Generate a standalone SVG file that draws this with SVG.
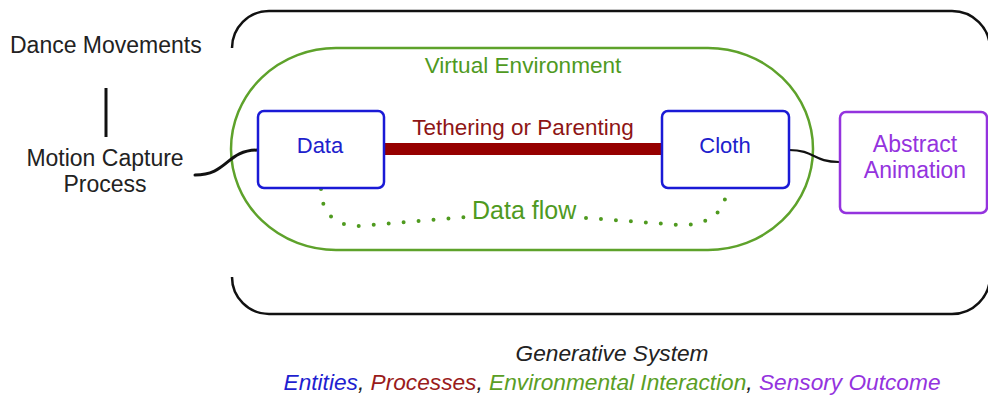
<svg xmlns="http://www.w3.org/2000/svg" width="988" height="397" viewBox="0 0 988 397">
  <style>
    text { font-family: "Liberation Sans", Arial, sans-serif; }
    .plain { fill: #222222; font-size: 23px; }
    .entity rect { fill: #ffffff; stroke: #1a1ad6; stroke-width: 2.5; }
    .entity text { fill: #2020cc; font-size: 22px; text-anchor: middle; }
    .outcome rect { fill: #ffffff; stroke: #9433de; stroke-width: 2.5; }
    .outcome text { fill: #9433de; font-size: 23px; text-anchor: middle; }
    .wire { fill: none; stroke: #111111; stroke-linecap: round; }
    .flow { fill: none; stroke: #4f9a1f; stroke-width: 4; stroke-linecap: round; stroke-dasharray: 0 15; }
    .green { fill: #4f9a1f; }
    .legend { font-size: 22.7px; font-style: italic; text-anchor: middle; }
  </style>

  <!-- generative system enclosure (open on the left side) -->
  <g id="generative-system">
    <path d="M232,48 A37,37 0 0 1 269,11 L952,11 A38,38 0 0 1 990,49 L990,276 A38,38 0 0 1 952,314 L269,314 A37,37 0 0 1 232,277" fill="none" stroke="#111111" stroke-width="2.5"/>
  </g>

  <!-- virtual environment -->
  <g id="virtual-environment">
    <rect x="231" y="48" width="582" height="202" rx="105" ry="101" fill="none" stroke="#5ea22b" stroke-width="2.5"/>
    <text x="523" y="73" class="green" font-size="22.6" text-anchor="middle">Virtual Environment</text>
  </g>

  <!-- inputs -->
  <g id="dance-movements">
    <text x="10" y="53" class="plain">Dance Movements</text>
  </g>
  <g id="motion-capture">
    <text class="plain" text-anchor="middle"><tspan x="105" y="166">Motion Capture</tspan><tspan x="105" y="192">Process</tspan></text>
  </g>

  <!-- connectors -->
  <g id="connectors">
    <line x1="106" y1="88" x2="106" y2="137" stroke="#111111" stroke-width="3"/>
    <path class="wire" stroke-width="3" d="M195,175 C228,175 226,150 258,150"/>
    <path class="wire" stroke-width="2.2" d="M789,150 C815,150 813,162 839,162"/>
    <rect x="384" y="143" width="278" height="12" fill="#960000"/>
    <text x="523" y="135" fill="#8e1515" font-size="22.5" text-anchor="middle">Tethering or Parenting</text>
    <path class="flow" d="M321,189 Q322,226 360,226 L466,217"/>
    <path class="flow" d="M586,218 L680,225 Q720,225 726,195"/>
    <text x="472" y="219" class="green" font-size="25">Data flow</text>
  </g>

  <!-- entities -->
  <g id="data" class="entity">
    <rect x="258" y="111" width="126" height="77" rx="6"/>
    <text x="320" y="153">Data</text>
  </g>
  <g id="cloth" class="entity">
    <rect x="662" y="111" width="127" height="77" rx="6"/>
    <text x="725" y="153">Cloth</text>
  </g>

  <!-- sensory outcome -->
  <g id="abstract-animation" class="outcome">
    <rect x="840" y="112" width="147" height="101" rx="6"/>
    <text><tspan x="915" y="152">Abstract</tspan><tspan x="915" y="178">Animation</tspan></text>
  </g>

  <!-- caption and legend -->
  <g id="caption">
    <text x="612" y="361" class="legend" fill="#222222">Generative System</text>
    <text x="612" y="390" class="legend"><tspan fill="#1f1fd0">Entities</tspan><tspan fill="#222222">, </tspan><tspan fill="#9a1b1b">Processes</tspan><tspan fill="#222222">, </tspan><tspan fill="#5a9e25">Environmental Interaction</tspan><tspan fill="#222222">, </tspan><tspan fill="#9433de">Sensory Outcome</tspan></text>
  </g>
</svg>
